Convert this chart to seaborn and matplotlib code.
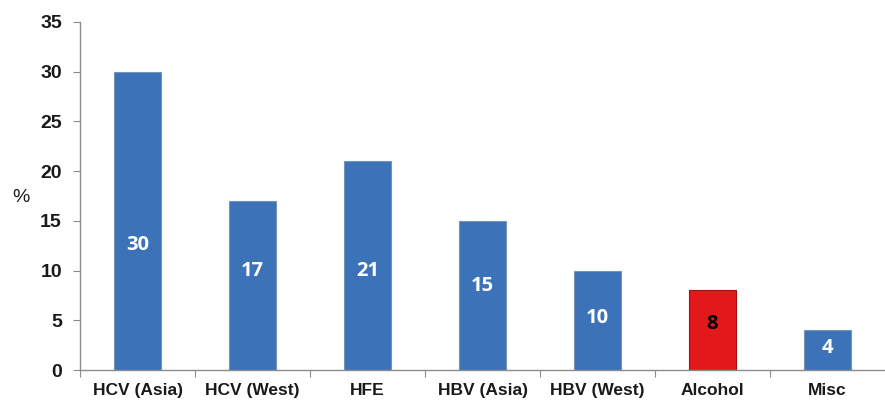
import matplotlib
matplotlib.use("Agg")
import matplotlib.pyplot as plt
import seaborn as sns
import pandas as pd

categories = ["HCV (Asia)", "HCV (West)", "HFE", "HBV (Asia)", "HBV (West)", "Alcohol", "Misc"]
values = [30, 17, 21, 15, 10, 8, 4]
highlight = ["no", "no", "no", "no", "no", "yes", "no"]
label_heights = [12.6, 10.0, 10.0, 8.4, 5.2, 4.6, 2.2]

df = pd.DataFrame({"cause": categories, "pct": values, "hl": highlight})

sns.set_theme(style="white")
plt.rcParams["font.family"] = ["Liberation Sans", "DejaVu Sans"]

fig = plt.figure(figsize=(8.85, 4.05), dpi=100)
ax = fig.add_axes([0.0904, 0.0864, 0.9096, 0.8593])

sns.barplot(data=df, x="cause", y="pct", hue="hl",
            palette={"no": "#3C73B8", "yes": "#E2191B"}, saturation=1,
            width=0.41, dodge=False, legend=False, ax=ax)

# outline each bar according to its category position
edge = {"no": "#7593b8", "yes": "#a01212"}
for patch in ax.patches:
    idx = int(round(patch.get_x() + patch.get_width() / 2))
    patch.set_edgecolor(edge[highlight[idx]])
    patch.set_linewidth(0.8)

for i, (v, h, ly) in enumerate(zip(values, highlight, label_heights)):
    ax.text(i, ly, str(v), ha="center", va="center",
            color="black" if h == "yes" else "white",
            fontsize=14.5, fontweight="bold", family=["Open Sans", "DejaVu Sans"])

ax.set_ylim(0, 35)
ax.set_yticks(range(0, 36, 5))
ax.set_xlim(-0.5, 6.5)
ax.set_xticks([i + 0.5 for i in range(-1, 6)], minor=False)
ax.set_xticklabels([])
ax.set_xticks(range(7), minor=True)
ax.set_xticklabels(categories, minor=True)

for lbl in ax.get_yticklabels():
    lbl.set_fontweight("bold")
    lbl.set_fontsize(14)
for lbl in ax.get_xticklabels(minor=True):
    lbl.set_fontweight("bold")
    lbl.set_fontsize(12.5)

ax.tick_params(axis="y", which="major", direction="out", length=5, width=0.8,
               color="#8c8c8c", left=True, pad=8, labelcolor="#1a1a1a")
ax.tick_params(axis="x", which="major", direction="out", length=5, width=0.8,
               color="#8c8c8c", bottom=True)
ax.tick_params(axis="x", which="minor", length=0, pad=9, labelcolor="#1a1a1a")

ax.set_xlabel("")
ax.set_ylabel("%", rotation=0, fontsize=14, color="#1a1a1a")
ax.yaxis.set_label_coords(-0.073, 0.47)

for side in ["top", "right"]:
    ax.spines[side].set_visible(False)
for side in ["left", "bottom"]:
    ax.spines[side].set_color("#8c8c8c")
    ax.spines[side].set_linewidth(1.0)

fig.savefig("out.png", dpi=100)
